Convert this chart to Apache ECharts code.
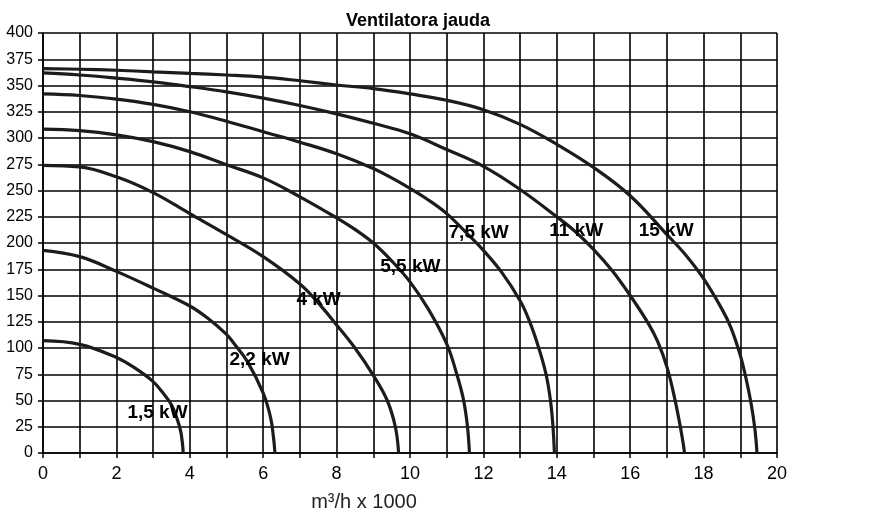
<!DOCTYPE html>
<html>
<head>
<meta charset="utf-8">
<script src="https://cdn.jsdelivr.net/npm/echarts@6/dist/echarts.min.js"></script>
<style>
html,body{margin:0;padding:0;background:#fff;}
#chart{width:870px;height:529px;}
</style>
</head>
<body>
<div id="chart"></div>
<script>
// ---- data (x = m³/h x 1000, y = pressure) ----
const titleText = "Ventilatora jauda";
const xAxisName = "m³/h x 1000";
const xMin = 0, xMax = 20, xStep = 1;
const yMin = 0, yMax = 400, yStep = 25;

const curve15 = [[0,107],[1,103.5],[2,91],[2.5,81],[3,68],[3.25,58],[3.5,46],[3.65,33],[3.75,21],[3.8,9],[3.82,0]];
const curve22 = [[0,193],[1,187],[2,173],[3,157],[4,140],[4.5,128],[5,113],[5.2,104.5],[5.57,87],[6,57],[6.2,34],[6.28,15],[6.32,0]];
const curve40 = [[0,274],[1,272.5],[2,263],[3,248],[4,228],[5,208],[6,187],[7,161],[7.5,143],[8,122],[8.5,100],[9,74],[9.38,50],[9.6,25],[9.69,0]];
const curve55 = [[0,308.5],[1,307],[2,303],[3,296.5],[4,287],[5,274.5],[6,262],[7,244],[8,224],[8.5,213],[9,200],[9.5,183],[10,163],[10.5,137],[11,104],[11.25,78],[11.45,52],[11.56,27],[11.62,0]];
const curve75 = [[0,342],[1,340.5],[2,337],[3,332],[4,325],[5,316],[6,306],[7,296],[8,285],[9,271],[9.5,262],[10,252],[10.5,241],[11,228],[11.5,211],[12,193],[12.5,172],[13,145],[13.25,126],[13.5,101],[13.7,76],[13.82,52],[13.89,28],[13.935,0]];
const curve110 = [[0,362],[1,360],[2,357],[3,353.5],[4,349],[5,344],[6,338],[7,331],[8,323],[9,314],[10,304],[11,289],[12,273],[13,251],[14,225],[14.5,211],[15,194],[15.5,174],[16,150],[16.5,123],[16.75,106],[17,82],[17.2,54],[17.35,28],[17.44,10],[17.48,0]];
const curve150 = [[0,366],[1,365.5],[2,364.5],[3,363],[4,361.5],[5,360],[6,358],[7,354.5],[8,350.5],[9,347],[10,342],[11,336],[12,327],[13,313],[14,294],[15,272],[16,245],[17,208],[17.5,189],[18,166],[18.5,137],[18.75,119],[19,93],[19.15,72],[19.3,46],[19.4,22],[19.455,0]];

const curves = [curve15, curve22, curve40, curve55, curve75, curve110, curve150];

const labelNames = ["1,5 kW","2,2 kW","4 kW","5,5 kW","7,5 kW","11 kW","15 kW"];
const labelX = [3.12, 5.9, 7.51, 10.01, 11.87, 14.53, 16.98];
const labelY = [38, 89, 146, 177, 210, 212, 212];

// ---- chart ----
const chart = echarts.init(document.getElementById('chart'), null, {renderer:'canvas'});
const FONT = 'Arial, "Liberation Sans", sans-serif';

const series = curves.map(c => ({
  type: 'line',
  data: c,
  smooth: 0.4,
  showSymbol: false,
  symbol: 'none',
  lineStyle: {color: '#1c1c1c', width: 3.2},
  z: 3,
  animation: false
}));

series.push({
  type: 'scatter',
  data: labelNames.map((n,i) => ({value:[labelX[i], labelY[i]], name:n})),
  symbolSize: 0,
  itemStyle: {opacity: 1},
  label: {
    show: true,
    position: 'inside',
    formatter: p => p.name,
    fontFamily: FONT,
    fontWeight: 'bold',
    fontSize: 19,
    color: '#000'
  },
  z: 5,
  animation: false
});

chart.setOption({
  animation: false,
  backgroundColor: '#fff',
  title: [
    {text: titleText, left: 413, top: 7, textAlign: 'center',
     textStyle: {fontFamily: FONT, fontWeight: 'bold', fontSize: 18, color: '#000'}},
    {text: xAxisName, left: 359, top: 487, textAlign: 'center',
     textStyle: {fontFamily: FONT, fontWeight: 'normal', fontSize: 20, color: '#222'}}
  ],
  grid: {left: 43, right: 93, top: 33, bottom: 76, containLabel: false},
  xAxis: {
    type: 'value', min: xMin, max: xMax, interval: xStep,
    axisLine: {show: true, lineStyle: {color: '#000', width: 1.5}},
    axisTick: {show: true, length: 5, lineStyle: {color: '#000', width: 1.5}},
    axisLabel: {
      formatter: v => (v % 2 === 0 ? String(v) : ''),
      fontFamily: FONT, fontSize: 18, color: '#000', margin: 12
    },
    splitLine: {show: true, lineStyle: {color: '#000', width: 1.6}}
  },
  yAxis: {
    type: 'value', min: yMin, max: yMax, interval: yStep,
    axisLine: {show: true, lineStyle: {color: '#000', width: 1.5}},
    axisTick: {show: true, length: 5, lineStyle: {color: '#000', width: 1.5}},
    axisLabel: {fontFamily: FONT, fontSize: 16, color: '#000', margin: 10},
    splitLine: {show: true, lineStyle: {color: '#000', width: 1.6}}
  },
  series: series
});
</script>
</body>
</html>
